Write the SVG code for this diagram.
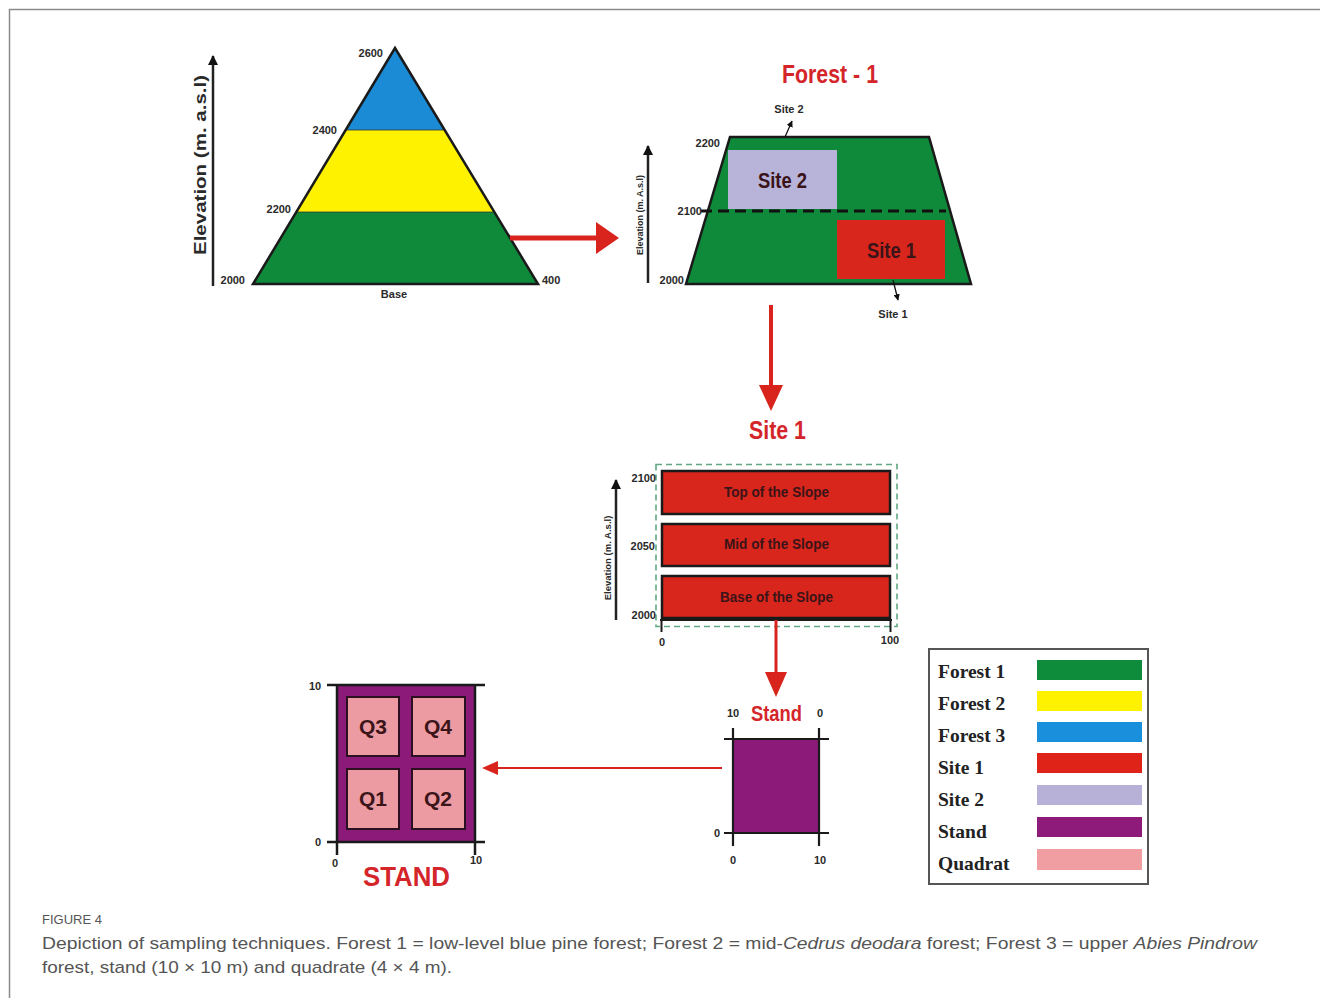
<svg xmlns="http://www.w3.org/2000/svg" width="1320" height="998" viewBox="0 0 1320 998">
<style>
.lb{font-family:"Liberation Sans",Arial,sans-serif;font-weight:bold;fill:#2a2a2a}
.sm{font-size:11px}
.red{font-family:"Liberation Sans",Arial,sans-serif;font-weight:bold;fill:#d4262a}
.dk{font-family:"Liberation Sans",Arial,sans-serif;font-weight:bold;fill:#3a1418}
.leg{font-family:"Liberation Serif","Times New Roman",serif;font-weight:bold;font-size:19.5px;fill:#222}
.cap{font-family:"Liberation Sans",Arial,sans-serif;fill:#555}
.axl{stroke:#222;stroke-width:2.5;fill:none}
.blk{stroke:#1a1a1a;stroke-width:2.5}
.rarr{stroke:#d9241e;fill:none}
</style>
<defs>
<marker id="ah" viewBox="0 0 10 10" refX="9" refY="5" markerWidth="4" markerHeight="5" orient="auto" markerUnits="strokeWidth">
<path d="M0,0 L10,5 L0,10 z" fill="#111"/>
</marker>
<marker id="ahs" viewBox="0 0 10 10" refX="9" refY="5" markerWidth="5" markerHeight="5" orient="auto" markerUnits="strokeWidth">
<path d="M0,0 L10,5 L0,10 z" fill="#111"/>
</marker>
</defs>
<rect width="1320" height="998" fill="#fff"/>
<g id="frame" stroke="#8a8a8a" stroke-width="1.5" fill="none">
<line x1="9" y1="9.5" x2="1320" y2="9.5"/>
<line x1="9.5" y1="9" x2="9.5" y2="998"/>
</g>

<g id="pyramid">
<line class="axl" x1="213" y1="286" x2="213" y2="56" marker-end="url(#ah)"/>
<text class="lb" font-size="17" fill="#333" transform="translate(206,165) rotate(-90)" text-anchor="middle" textLength="180" lengthAdjust="spacingAndGlyphs">Elevation (m. a.s.l)</text>
<polygon points="395,48 345.5,130 444.5,130" fill="#1b8bd6"/>
<polygon points="345.5,130 444.5,130 494,212 296,212" fill="#fff200"/>
<polygon points="296,212 494,212 538,284 253,284" fill="#0e8a3a"/>
<line x1="345.5" y1="130" x2="444.5" y2="130" stroke="#333" stroke-width="0.8"/>
<line x1="296" y1="212" x2="494" y2="212" stroke="#333" stroke-width="0.8"/>
<polygon points="395,48 538,284 253,284" fill="none" class="blk"/>
<text class="lb sm" x="383" y="57" text-anchor="end">2600</text>
<text class="lb sm" x="337" y="134" text-anchor="end">2400</text>
<text class="lb sm" x="291" y="213" text-anchor="end">2200</text>
<text class="lb sm" x="245" y="284" text-anchor="end">2000</text>
<text class="lb sm" x="542" y="284">400</text>
<text class="lb sm" x="394" y="298" text-anchor="middle">Base</text>
</g>

<g id="forest1">
<text class="red" font-size="26" x="782" y="83" textLength="96" lengthAdjust="spacingAndGlyphs">Forest - 1</text>
<line class="axl" x1="648" y1="283" x2="648" y2="146" marker-end="url(#ah)" stroke-width="2"/>
<text class="lb" font-size="9" transform="translate(643,215) rotate(-90)" text-anchor="middle">Elevation (m. A.s.l)</text>
<polygon points="730,137 929,137 971,284 686,284" fill="#0e8a3a"/>
<rect x="728" y="150" width="109" height="59" fill="#b8b3d9"/>
<rect x="837" y="220" width="108" height="59" fill="#d9261c"/>
<polygon points="730,137 929,137 971,284 686,284" fill="none" class="blk"/>
<line x1="701" y1="211" x2="946" y2="211" stroke="#111" stroke-width="3" stroke-dasharray="11,6"/>
<text class="dk" font-size="22" fill="#2a2838" x="758" y="188" textLength="49" lengthAdjust="spacingAndGlyphs">Site 2</text>
<text class="dk" font-size="22" x="867" y="258" textLength="49" lengthAdjust="spacingAndGlyphs">Site 1</text>
<text class="lb sm" x="720" y="147" text-anchor="end">2200</text>
<text class="lb sm" x="702" y="215" text-anchor="end">2100</text>
<text class="lb sm" x="684" y="284" text-anchor="end">2000</text>
<text class="lb sm" x="789" y="113" text-anchor="middle">Site 2</text>
<text class="lb sm" x="893" y="318" text-anchor="middle">Site 1</text>
<line x1="785" y1="137" x2="792" y2="121" stroke="#111" stroke-width="1.3" marker-end="url(#ahs)"/>
<line x1="893" y1="280" x2="898" y2="300" stroke="#111" stroke-width="1.3" marker-end="url(#ahs)"/>
</g>

<g id="site1">
<text class="red" font-size="26" x="749" y="439" textLength="57" lengthAdjust="spacingAndGlyphs">Site 1</text>
<rect x="656" y="464.5" width="241" height="162" fill="none" stroke="#5fa882" stroke-width="1.6" stroke-dasharray="6,4"/>
<line class="axl" x1="616" y1="620" x2="616" y2="480" stroke-width="2" marker-end="url(#ah)"/>
<text class="lb" font-size="9.5" transform="translate(611,558) rotate(-90)" text-anchor="middle">Elevation (m. A.s.l)</text>
<g stroke="#1a1a1a" stroke-width="2.5" fill="#d9261c">
<rect x="662" y="471" width="228" height="43"/>
<rect x="662" y="524" width="228" height="42"/>
<rect x="662" y="576" width="228" height="42"/>
</g>
<text class="dk" font-size="15" x="724" y="497" textLength="105" lengthAdjust="spacingAndGlyphs">Top of the Slope</text>
<text class="dk" font-size="15" x="724" y="549" textLength="105" lengthAdjust="spacingAndGlyphs">Mid of the Slope</text>
<text class="dk" font-size="15" x="720" y="602" textLength="113" lengthAdjust="spacingAndGlyphs">Base of the Slope</text>
<g stroke="#1a1a1a" stroke-width="2">
<line x1="660" y1="620" x2="892" y2="620"/>
<line x1="661.5" y1="619" x2="661.5" y2="632"/>
<line x1="890.5" y1="619" x2="890.5" y2="632"/>
</g>
<text class="lb sm" x="656" y="482" text-anchor="end">2100</text>
<text class="lb sm" x="655" y="550" text-anchor="end">2050</text>
<text class="lb sm" x="656" y="619" text-anchor="end">2000</text>
<text class="lb sm" x="662" y="646" text-anchor="middle">0</text>
<text class="lb sm" x="890" y="644" text-anchor="middle">100</text>
</g>

<g id="stand-small">
<text class="red" font-size="22" x="751" y="721" textLength="51" lengthAdjust="spacingAndGlyphs">Stand</text>
<text class="lb sm" x="733" y="717" text-anchor="middle">10</text>
<text class="lb sm" x="820" y="717" text-anchor="middle">0</text>
<rect x="733" y="739" width="86" height="94" fill="#8b1a78"/>
<g stroke="#1a1a1a" stroke-width="2.2">
<line x1="733" y1="728" x2="733" y2="846"/>
<line x1="819" y1="728" x2="819" y2="846"/>
<line x1="724" y1="739" x2="829" y2="739"/>
<line x1="724" y1="833" x2="829" y2="833"/>
</g>
<text class="lb sm" x="717" y="837" text-anchor="middle">0</text>
<text class="lb sm" x="733" y="864" text-anchor="middle">0</text>
<text class="lb sm" x="820" y="864" text-anchor="middle">10</text>
</g>

<g id="stand-large">
<rect x="337" y="685" width="138" height="157" fill="#8b1a78"/>
<g stroke="#2a1020" stroke-width="2" fill="#eb9ba1">
<rect x="347" y="697" width="52" height="59"/>
<rect x="412" y="697" width="53" height="59"/>
<rect x="347" y="769" width="52" height="60"/>
<rect x="412" y="769" width="53" height="60"/>
</g>
<g stroke="#1a1a1a" stroke-width="2.5">
<line x1="327" y1="685" x2="485" y2="685"/>
<line x1="327" y1="842" x2="485" y2="842"/>
<line x1="337" y1="684" x2="337" y2="855"/>
<line x1="475" y1="684" x2="475" y2="855"/>
</g>
<text class="dk" font-size="21" x="373" y="734" text-anchor="middle">Q3</text>
<text class="dk" font-size="21" x="438" y="734" text-anchor="middle">Q4</text>
<text class="dk" font-size="21" x="373" y="806" text-anchor="middle">Q1</text>
<text class="dk" font-size="21" x="438" y="806" text-anchor="middle">Q2</text>
<text class="lb sm" x="315" y="690" text-anchor="middle">10</text>
<text class="lb sm" x="318" y="846" text-anchor="middle">0</text>
<text class="lb sm" x="335" y="867" text-anchor="middle">0</text>
<text class="lb sm" x="476" y="864" text-anchor="middle">10</text>
<text class="red" font-size="27" x="363" y="886" textLength="87" lengthAdjust="spacingAndGlyphs">STAND</text>
</g>

<g id="legend">
<rect x="929" y="649" width="219" height="235" fill="#fff" stroke="#555" stroke-width="2"/>
<text class="leg" x="938" y="678">Forest 1</text>
<text class="leg" x="938" y="710">Forest 2</text>
<text class="leg" x="938" y="742">Forest 3</text>
<text class="leg" x="938" y="774">Site 1</text>
<text class="leg" x="938" y="806">Site 2</text>
<text class="leg" x="938" y="838">Stand</text>
<text class="leg" x="938" y="870">Quadrat</text>
<rect x="1037" y="660" width="105" height="20" fill="#0e8c3c"/>
<rect x="1037" y="691" width="105" height="20" fill="#fff200"/>
<rect x="1037" y="722" width="105" height="20" fill="#1a8fdc"/>
<rect x="1037" y="753" width="105" height="20" fill="#df2319"/>
<rect x="1037" y="785" width="105" height="20" fill="#b7b1d8"/>
<rect x="1037" y="817" width="105" height="20" fill="#8e1b7a"/>
<rect x="1037" y="849" width="105" height="21" fill="#f09ea2"/>
</g>

<g id="connectors">
<line class="rarr" x1="510" y1="238" x2="598" y2="238" stroke-width="5"/>
<polygon points="596,222 619,238 596,254" fill="#d9241e"/>
<line class="rarr" x1="771" y1="305" x2="771" y2="388" stroke-width="4"/>
<polygon points="759,385 783,385 771,411" fill="#d9241e"/>
<line class="rarr" x1="776" y1="620" x2="776" y2="675" stroke-width="3"/>
<polygon points="765,672 787,672 776,697" fill="#d9241e"/>
<line class="rarr" x1="722" y1="768" x2="496" y2="768" stroke-width="2" stroke="#d0453a"/>
<polygon points="498,761 482,768 498,775" fill="#d9241e"/>
</g>

<g id="caption">
<text class="cap" font-size="13" x="42" y="924">FIGURE 4</text>
<text class="cap" font-size="17" x="42" y="949" textLength="1215" lengthAdjust="spacingAndGlyphs">Depiction of sampling techniques. Forest 1 = low-level blue pine forest; Forest 2 = mid-<tspan font-style="italic">Cedrus deodara</tspan> forest; Forest 3 = upper <tspan font-style="italic">Abies Pindrow</tspan></text>
<text class="cap" font-size="17" x="42" y="973" textLength="410" lengthAdjust="spacingAndGlyphs">forest, stand (10 × 10 m) and quadrate (4 × 4 m).</text>
</g>
</svg>
